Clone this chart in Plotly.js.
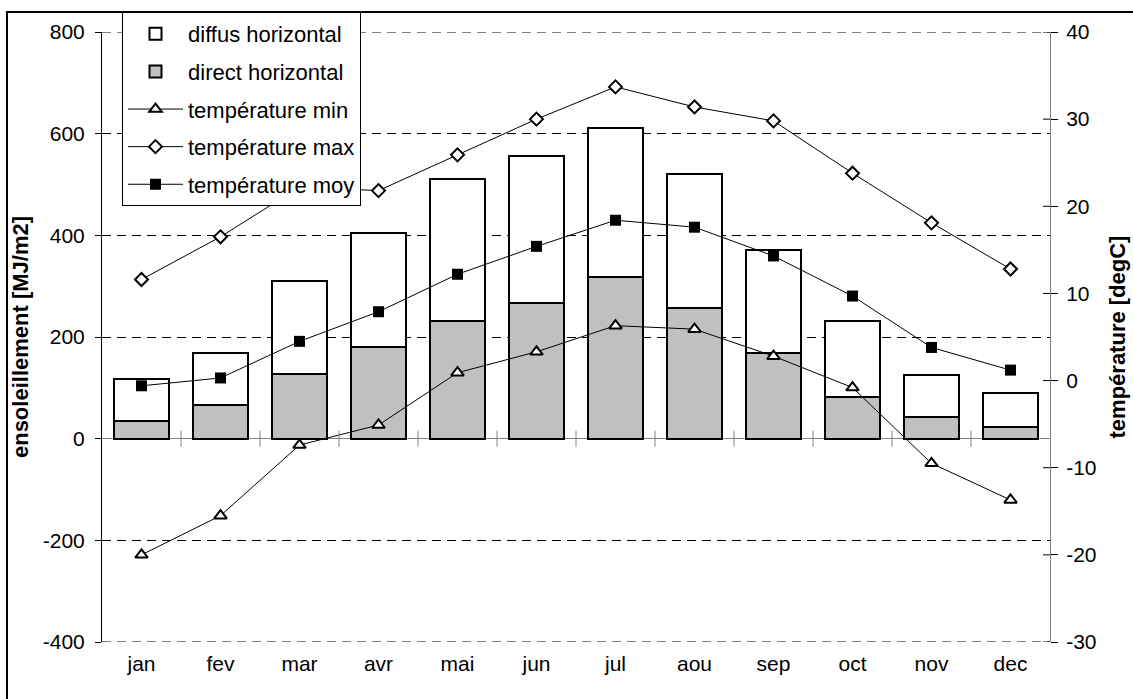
<!DOCTYPE html>
<html>
<head>
<meta charset="utf-8">
<script src="https://cdn.plot.ly/plotly-3.0.1.min.js"></script>
<style>
  html, body { margin: 0; padding: 0; background: #fff; }
  #chart { width: 1133px; height: 699px; }
</style>
</head>
<body>
<div id="chart"></div>
<script>
// Monthly solar irradiation (MJ/m2) and air temperatures (degC)
const months = ['jan', 'fev', 'mar', 'avr', 'mai', 'jun', 'jul', 'aou', 'sep', 'oct', 'nov', 'dec'];
const directHoriz = [35, 66, 128, 180, 231, 266, 318, 258, 168, 82, 43, 23];
const diffusHoriz = [82, 102, 182, 224, 279, 290, 294, 263, 204, 149, 82, 66];
const tempMin = [-20.0, -15.5, -7.4, -5.1, 0.9, 3.3, 6.3, 5.9, 2.8, -0.8, -9.5, -13.7];
const tempMax = [11.6, 16.5, 22.2, 21.8, 25.9, 30.0, 33.7, 31.4, 29.8, 23.8, 18.1, 12.8];
const tempMoy = [-0.6, 0.3, 4.5, 7.9, 12.2, 15.4, 18.4, 17.6, 14.3, 9.7, 3.8, 1.2];

// Axis tick values
const leftTicks = [-400, -200, 0, 200, 400, 600, 800];
const rightTicks = [-30, -20, -10, 0, 10, 20, 30, 40];

const FONT = 'Arial, "Liberation Sans", sans-serif';
const TICK_SIZE = 21;
const TEXT_SIZE = 22;

const barLine = { color: '#000', width: 2 };

const traces = [
  {
    type: 'bar', name: 'direct horizontal', x: months, y: directHoriz,
    marker: { color: '#c0c0c0', line: barLine },
    legendgroup: 'g2', legendrank: 2, yaxis: 'y'
  },
  {
    type: 'bar', name: 'diffus horizontal', x: months, y: diffusHoriz,
    marker: { color: '#ffffff', line: barLine },
    legendgroup: 'g1', legendrank: 1, yaxis: 'y'
  },
  {
    type: 'scatter', mode: 'lines+markers', name: 'température min', x: months, y: tempMin,
    yaxis: 'y2', line: { color: '#000', width: 1 },
    marker: { symbol: 'triangle-up', size: 11, color: '#fff', line: { color: '#000', width: 2 } },
    legendgroup: 'g3', legendrank: 3
  },
  {
    type: 'scatter', mode: 'lines+markers', name: 'température max', x: months, y: tempMax,
    yaxis: 'y2', line: { color: '#000', width: 1 },
    marker: { symbol: 'diamond', size: 10, color: '#fff', line: { color: '#000', width: 2 } },
    legendgroup: 'g4', legendrank: 4
  },
  {
    type: 'scatter', mode: 'lines+markers', name: 'température moy', x: months, y: tempMoy,
    yaxis: 'y2', line: { color: '#000', width: 1 },
    marker: { symbol: 'square', size: 11, color: '#000', line: { color: '#000', width: 0 } },
    legendgroup: 'g5', legendrank: 5
  }
];

const shapes = [];
// Dashed grid lines at the two ends of the left axis range
[leftTicks[0], leftTicks[leftTicks.length - 1]].forEach(v => {
  shapes.push({
    type: 'line', xref: 'paper', yref: 'y', x0: 0, x1: 1, y0: v, y1: v,
    line: { color: '#000', width: 1, dash: '9px,6px' }, layer: 'below'
  });
});
// Small tick marks between months, crossing the zero line
for (let i = 1; i < months.length; i++) {
  shapes.push({
    type: 'line', xref: 'x', yref: 'y', ysizemode: 'pixel', yanchor: 0,
    x0: i - 0.5, x1: i - 0.5, y0: -8, y1: 8,
    line: { color: '#808080', width: 1 }
  });
}
// Inner half of the right-axis ticks
rightTicks.forEach(v => {
  shapes.push({
    type: 'line', xref: 'paper', yref: 'y2', xsizemode: 'pixel', xanchor: 1,
    x0: -7, x1: 0, y0: v, y1: v,
    line: { color: '#000', width: 1 }
  });
});
// Outer chart frame
shapes.push({
  type: 'rect', xref: 'paper', yref: 'paper',
  x0: -0.1002, x1: 1.3, y0: -0.3, y1: 1.0327,
  line: { color: '#000', width: 2 }, fillcolor: 'rgba(0,0,0,0)', layer: 'above'
});

const layout = {
  width: 1133, height: 699,
  margin: { l: 102, r: 83, t: 30, b: 57, pad: 0 },
  paper_bgcolor: '#fff', plot_bgcolor: '#fff',
  font: { family: FONT, size: TICK_SIZE, color: '#000' },
  barmode: 'stack', bargap: 0.3,
  showlegend: true,
  legend: {
    x: 0.0211, y: 1.0327, xanchor: 'left', yanchor: 'top',
    bgcolor: '#fff', bordercolor: '#000', borderwidth: 1,
    font: { family: FONT, size: TEXT_SIZE, color: '#000' },
    traceorder: 'grouped', tracegroupgap: 6, itemwidth: 55
  },
  xaxis: {
    type: 'category', range: [-0.5, months.length - 0.5],
    showline: false, showgrid: false, zeroline: false, ticks: '',
    ticklabelstandoff: 7,
    tickfont: { family: FONT, size: TICK_SIZE }, fixedrange: true
  },
  yaxis: {
    range: [-400, 800], tickmode: 'array', tickvals: leftTicks, ticktext: leftTicks.map(String),
    showline: true, linecolor: '#000', linewidth: 1,
    ticks: 'outside', ticklen: 6, tickcolor: '#000', ticklabelstandoff: 6,
    showgrid: true, gridcolor: '#000', gridwidth: 1, griddash: '9px,6px',
    zeroline: true, zerolinecolor: '#808080', zerolinewidth: 1,
    tickfont: { family: FONT, size: TICK_SIZE },
    title: { text: 'ensoleillement [MJ/m2]', font: { family: FONT, size: TEXT_SIZE, weight: 'bold' }, standoff: 8 }
  },
  yaxis2: {
    overlaying: 'y', side: 'right', anchor: 'x',
    range: [-30, 40], tickmode: 'array', tickvals: rightTicks, ticktext: rightTicks.map(String),
    showline: true, linecolor: '#808080', linewidth: 1,
    ticks: 'outside', ticklen: 7, tickcolor: '#000', ticklabelstandoff: 4,
    showgrid: false, zeroline: false,
    tickfont: { family: FONT, size: TICK_SIZE },
    title: { text: 'température [degC]', font: { family: FONT, size: TEXT_SIZE, weight: 'bold' }, standoff: 14 }
  },
  shapes: shapes
};

Plotly.newPlot('chart', traces, layout, { staticPlot: true, displayModeBar: false });
</script>
</body>
</html>
